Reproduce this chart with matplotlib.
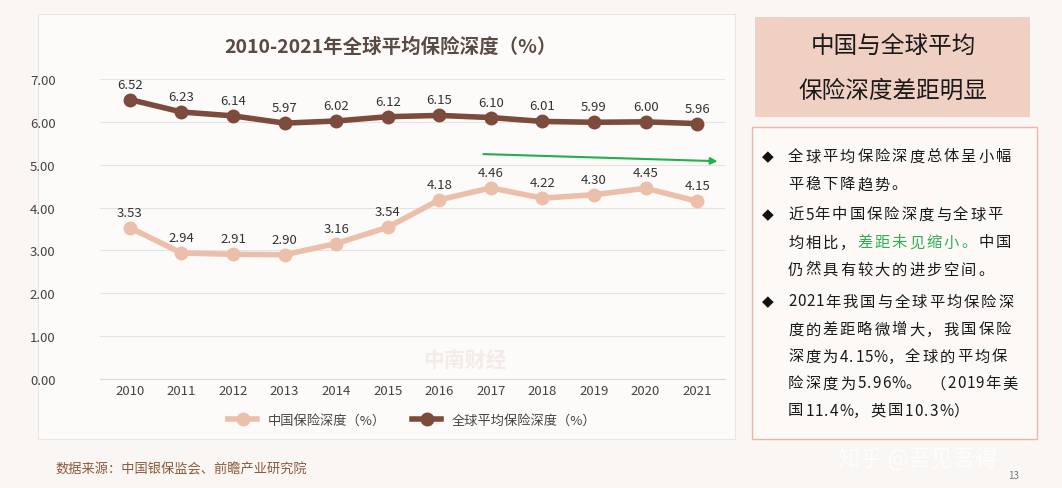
import matplotlib.pyplot as plt
from matplotlib.patches import Rectangle

plt.rcParams['font.family'] = ['Noto Sans CJK SC', 'DejaVu Sans']

years = list(range(2010, 2022))
china = [3.53, 2.94, 2.91, 2.90, 3.16, 3.54, 4.18, 4.46, 4.22, 4.30, 4.45, 4.15]
world = [6.52, 6.23, 6.14, 5.97, 6.02, 6.12, 6.15, 6.10, 6.01, 5.99, 6.00, 5.96]
yticks = [0, 1, 2, 3, 4, 5, 6, 7]

W, H = 1062, 489
fig = plt.figure(figsize=(W / 100, H / 100), dpi=100)
fig.patch.set_facecolor('#faf6f3')


def fx(px):
    return px / W


def fy(py):
    return 1 - py / H


# chart card
fig.patches.append(Rectangle((fx(38), fy(440)), fx(735 - 38), (440 - 15) / H,
                             transform=fig.transFigure, facecolor='#fdfbfa',
                             edgecolor='#ece4df', lw=0.8, zorder=0))

ax = fig.add_axes([fx(100), fy(380), fx(625), 300 / H], zorder=3)
ax.set_facecolor('none')
ax.set_xlim(2009.42, 2021.54)
ax.set_ylim(0, 7)
ax.set_yticks(yticks)
ax.set_yticklabels([f'{v:.2f}' for v in yticks])
ax.set_xticks(years)
ax.tick_params(length=0, labelsize=9.5, colors='#444444')
ax.tick_params(axis='y', pad=32)
ax.grid(axis='y', color='#e3e3e3', lw=0.8)
ax.set_axisbelow(True)
for s in ax.spines.values():
    s.set_visible(False)
ax.spines['bottom'].set_visible(True)
ax.spines['bottom'].set_color('#d8d8d8')

c_china = '#ebbfaa'
c_world = '#7d4b3b'
ax.plot(years, china, color=c_china, lw=4, marker='o', ms=9, label='中国保险深度（%）')
ax.plot(years, world, color=c_world, lw=4, marker='o', ms=9, label='全球平均保险深度（%）')
for x, v in zip(years, china):
    ax.text(x, v + 0.28, f'{v:.2f}', ha='center', fontsize=9.5, color='#333333')
for x, v in zip(years, world):
    ax.text(x, v + 0.28, f'{v:.2f}', ha='center', fontsize=9.5, color='#333333')

ax.legend(loc='upper center', bbox_to_anchor=(0.5, -0.075), ncol=2, frameon=False,
          fontsize=9.5, handlelength=2.2, labelcolor='#444444')

ax.annotate('', xy=(2021.45, 5.08), xytext=(2016.8, 5.25),
            arrowprops=dict(arrowstyle='-|>', color='#22b04b', lw=1.5))

fig.text(fx(390), fy(47), '2010-2021年全球平均保险深度（%）', ha='center', va='center',
         fontsize=14, fontweight='bold', color='#5a4a44')
fig.text(fx(465), fy(360), '中南财经', ha='center', va='center', fontsize=15,
         fontweight='bold', color='#f3ebe7', zorder=1)
fig.text(fx(55), fy(470), '数据来源：中国银保监会、前瞻产业研究院', va='center',
         fontsize=9.5, color='#8b5a3c')

# right panel
fig.patches.append(Rectangle((fx(755), fy(118)), fx(275), 100 / H, transform=fig.transFigure,
                             facecolor='#efd0c3', edgecolor='none', zorder=0))
fig.text(fx(893), fy(47), '中国与全球平均', ha='center', va='center', fontsize=17, color='#1a1a1a')
fig.text(fx(893), fy(91), '保险深度差距明显', ha='center', va='center', fontsize=17, color='#1a1a1a')
fig.patches.append(Rectangle((fx(752), fy(440)), fx(285), 312 / H, transform=fig.transFigure,
                             facecolor='#fdf9f7', edgecolor='#e9b8a4', lw=1, zorder=0))

lines = [
    (157, True, [('全球平均保险深度总体呈小幅', '#1a1a1a')]),
    (185, False, [('平稳下降趋势。', '#1a1a1a')]),
    (215, True, [('近5年中国保险深度与全球平', '#1a1a1a')]),
    (243, False, [('均相比，', '#1a1a1a'), ('差距未见缩小。', '#2fae55'), ('中国', '#1a1a1a')]),
    (270, False, [('仍然具有较大的进步空间。', '#1a1a1a')]),
    (302, True, [('2021年我国与全球平均保险深', '#1a1a1a')]),
    (330, False, [('度的差距略微增大，我国保险', '#1a1a1a')]),
    (357, False, [('深度为4.15%，全球的平均保', '#1a1a1a')]),
    (384, False, [('险深度为5.96%。 （2019年美', '#1a1a1a')]),
    (411, False, [('国11.4%，英国10.3%）', '#1a1a1a')]),
]
narrow = {'%': 14, '.': 6, ' ': 8}
for py, bullet, parts in lines:
    if bullet:
        fig.text(fx(762), fy(py), '◆', va='center', fontsize=11, color='#111111',
                 family=['DejaVu Sans'])
    x = 788
    for txt, col in parts:
        for ch in txt:
            fig.text(fx(x), fy(py), ch, va='center', fontsize=11, color=col)
            x += narrow.get(ch, 9.3 if ord(ch) < 128 else 17.3)

fig.text(fx(918), fy(460), '知乎 @吾见吾得', ha='center', va='center', fontsize=16,
         color='#ffffff', alpha=0.85)
fig.text(fx(1014), fy(476), '13', ha='center', va='center', fontsize=7, color='#777777')

fig.savefig('out.png', dpi=100, facecolor=fig.get_facecolor())
